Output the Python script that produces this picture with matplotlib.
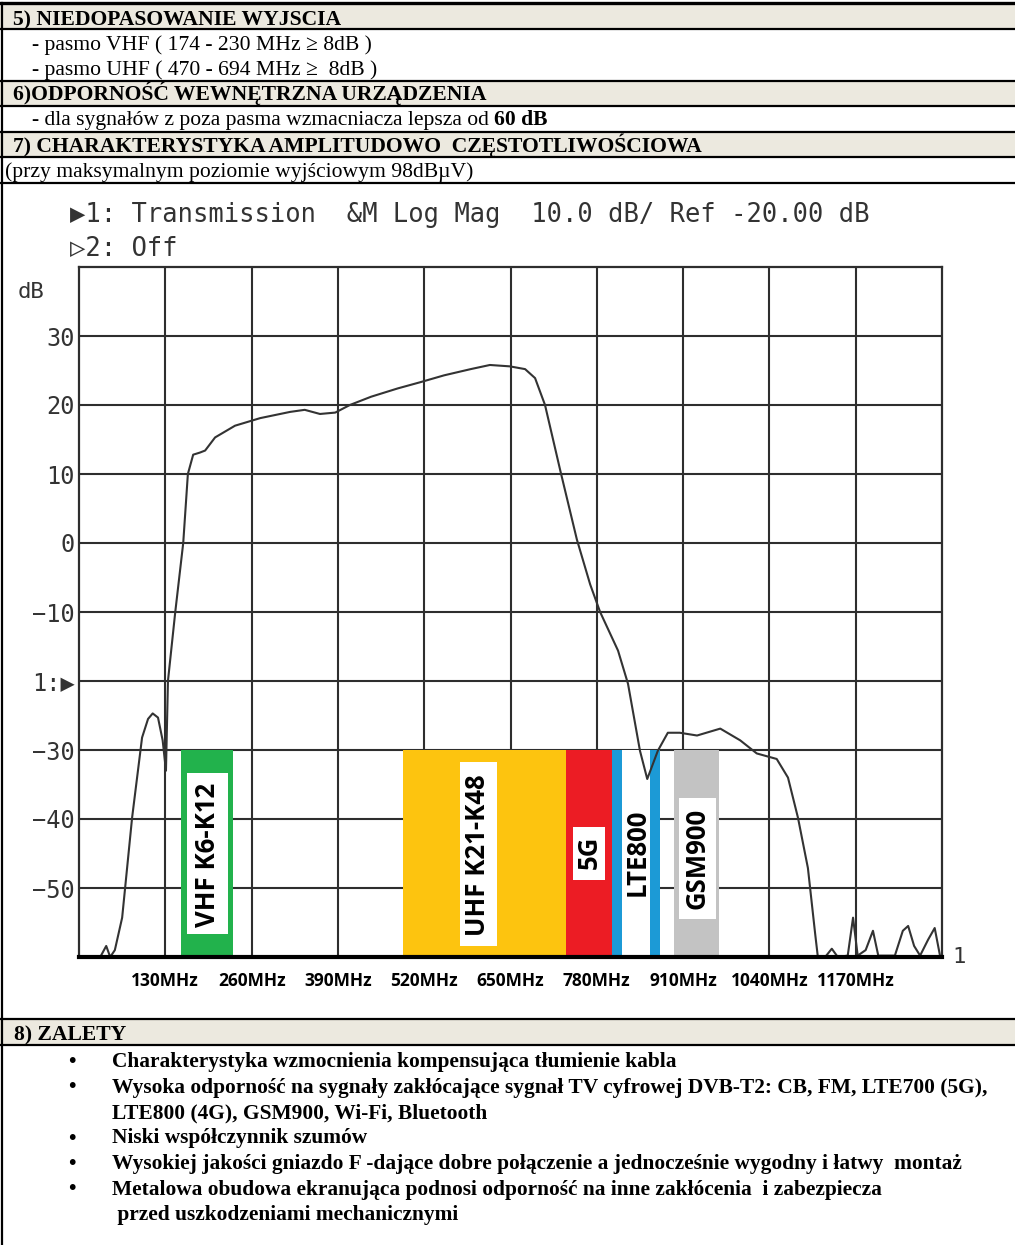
import matplotlib
matplotlib.use("Agg")
import matplotlib.pyplot as plt
from matplotlib.patches import Rectangle

# Charakterystyka amplitudowo-czestotliwosciowa
freq_mhz = [0, 32, 41, 47, 54, 65, 80, 95, 104, 111, 119, 126, 131, 134, 145,
            157, 164, 172, 182, 190, 205, 235, 273, 318, 340, 363, 386, 408,
            440, 480, 514, 550, 590, 619, 649, 672, 687, 702, 725, 750, 770,
            785, 812, 827, 845, 856, 872, 887, 905, 931, 966, 996, 1021, 1051,
            1068, 1083, 1098, 1109, 1113, 1124, 1134, 1143, 1158, 1166, 1173,
            1185, 1196, 1204, 1229, 1241, 1249, 1258, 1267, 1279, 1289, 1297,
            1300]
gain_db = [-60, -60, -58.4, -60, -59, -54.3, -39.8, -28.2, -25.5, -24.7, -25.3,
           -28.6, -33, -20, -10, 0, 10, 12.8, 13.1, 13.4, 15.3, 17, 18.1, 19.0,
           19.3, 18.7, 18.9, 20.0, 21.2, 22.4, 23.3, 24.3, 25.2, 25.8, 25.6,
           25.2, 23.9, 20, 10.5, 0.5, -6, -10, -15.6, -20.4, -30.1, -34.2,
           -30.1, -27.5, -27.5, -27.9, -26.9, -28.6, -30.5, -31.3, -34, -39.8,
           -47.1, -56.7, -60, -60, -58.8, -60, -59.8, -54.3, -59.8, -59, -56.2,
           -59.8, -59.8, -56.2, -55.5, -58.4, -59.8, -57.5, -55.8, -59.8, -60]

# Pasma (MHz)
band_names = ["VHF K6-K12", "UHF K21-K48", "5G", "LTE800", "GSM900"]
band_start = [154, 488, 734, 803, 896]
band_end = [232, 734, 803, 875, 964]
band_top_db = -30

x_ticks = [130, 260, 390, 520, 650, 780, 910, 1040, 1170]
x_labels = ["130MHz", "260MHz", "390MHz", "520MHz", "650MHz", "780MHz",
            "910MHz", "1040MHz", "1170MHz"]
y_ticks = [30, 20, 10, 0, -10, -20, -30, -40, -50]
y_labels = ["30", "20", "10", "0", "\u221210", "1:\u25b6", "\u221230",
            "\u221240", "\u221250"]

# Tekst dokumentu
header_rows = [
    ("5) NIEDOPASOWANIE WYJSCIA", "bold", 13, 25),
    ("- pasmo VHF ( 174 - 230 MHz \u2265 8dB )", "normal", 32, 50),
    ("- pasmo UHF ( 470 - 694 MHz \u2265  8dB )", "normal", 32, 75),
    ("6)ODPORNO\u015a\u0106 WEWN\u0118TRZNA URZ\u0104DZENIA", "bold", 13, 100),
    ("7) CHARAKTERYSTYKA AMPLITUDOWO  CZ\u0118STOTLIWO\u015aCIOWA", "bold", 13, 152),
    ("(przy maksymalnym poziomie wyj\u015bciowym 98dB\u00b5V)", "normal", 5, 177),
]
zalety = [
    ("Charakterystyka wzmocnienia kompensuj\u0105ca t\u0142umienie kabla", True),
    ("Wysoka odporno\u015b\u0107 na sygna\u0142y zak\u0142\u00f3caj\u0105ce sygna\u0142 TV cyfrowej DVB-T2: CB, FM, LTE700 (5G),", True),
    ("LTE800 (4G), GSM900, Wi-Fi, Bluetooth", False),
    ("Niski wsp\u00f3\u0142czynnik szum\u00f3w", True),
    ("Wysokiej jako\u015bci gniazdo F -daj\u0105ce dobre po\u0142\u0105czenie a jednocze\u015bnie wygodny i \u0142atwy  monta\u017c", True),
    ("Metalowa obudowa ekranuj\u0105ca podnosi odporno\u015b\u0107 na inne zak\u0142\u00f3cenia  i zabezpiecza", True),
    (" przed uszkodzeniami mechanicznymi", False),
]

W, H = 1015, 1245
fig = plt.figure(figsize=(W / 100, H / 100), dpi=100)
fig.patch.set_facecolor("white")

# strona dokumentu w pikselach
page = fig.add_axes([0, 0, 1, 1], zorder=0)
page.set_xlim(0, W)
page.set_ylim(H, 0)
page.axis("off")

beige = "#ece9df"
for top, bottom in [(3, 29), (81, 106), (132, 157), (1019, 1045)]:
    page.add_patch(Rectangle((0, top), W, bottom - top, color=beige, lw=0))
page.plot([0, W], [3, 3], color="black", lw=2.4)
for y in [29, 81, 106, 132, 157, 183, 1019, 1045]:
    page.plot([0, W], [y, y], color="black", lw=1.6)
page.plot([2, 2], [3, H], color="black", lw=1.6)

serif = "Liberation Serif"
fs = 15.6
for txt, weight, x, y in header_rows:
    page.text(x, y, txt, fontsize=fs, family=serif, weight=weight, va="baseline")

t1 = page.text(32, 125, "- dla sygna\u0142\u00f3w z poza pasma wzmacniacza lepsza od ",
               fontsize=fs, family=serif, va="baseline")
fig.canvas.draw()
bb = t1.get_window_extent()
x_end = page.transData.inverted().transform((bb.x1, bb.y0))[0]
page.text(x_end, 125, "60 dB", fontsize=fs, family=serif, weight="bold", va="baseline")

page.text(14, 1040, "8) ZALETY", fontsize=fs, family=serif, weight="bold", va="baseline")
fs_b = 15.4
y = 1067
for txt, bullet in zalety:
    if bullet:
        page.text(68, y, "\u2022", fontsize=fs_b, family=serif, weight="bold", va="baseline")
    page.text(112, y, txt, fontsize=fs_b, family=serif, weight="bold", va="baseline")
    y += 25.5

# naglowek analizatora
mono = ["DejaVu Sans Mono", "DejaVu Sans"]
page.text(70, 215, "\u25b61: Transmission  &M Log Mag  10.0 dB/ Ref -20.00 dB",
          fontsize=18.4, family=mono, color="#333333", va="center")
page.text(70, 248, "\u25b72: Off", fontsize=18.4, family=mono, color="#333333", va="center")
page.text(18, 292, "dB", fontsize=16, family=mono, color="#333333", va="center")
page.text(952, 957, "1", fontsize=16, family=mono, color="#333333", va="center")

# wykres
ax = fig.add_axes([79 / W, 1 - 957 / H, 863 / W, 690 / H], zorder=1)
ax.set_facecolor("none")
ax.set_xlim(0, 1300)
ax.set_ylim(-60, 40)

grid_c = "#2e2e2e"
for xv in x_ticks:
    ax.axvline(xv, color=grid_c, lw=1.5, zorder=1)
for yv in y_ticks:
    ax.axhline(yv, color=grid_c, lw=1.5, zorder=1)
for side in ["left", "right", "top"]:
    ax.spines[side].set_color(grid_c)
    ax.spines[side].set_linewidth(1.6)
ax.spines["bottom"].set_color("black")
ax.spines["bottom"].set_linewidth(3)
ax.spines["bottom"].set_zorder(6)

ax.set_xticks(x_ticks)
ax.set_xticklabels(x_labels, family="Open Sans", weight="bold", fontsize=12.5)
ax.set_yticks(y_ticks)
ax.set_yticklabels(y_labels, family=mono, fontsize=17, color="#333333")
ax.tick_params(axis="x", length=0, pad=11)
ax.tick_params(axis="y", length=0, pad=3)

colors = ["#22b24c", "#fdc40f", "#ec1c24", "#1c9ad6", "#c3c3c3"]
for i, name in enumerate(band_names):
    ax.add_patch(Rectangle((band_start[i], -60), band_end[i] - band_start[i],
                           band_top_db + 60, color=colors[i], lw=0, zorder=2))

# biale pola pod napisami (MHz od, MHz do, dB dol, dB gora)
label_boxes = [(163, 225, -56.7, -33.3), (574, 630, -58.4, -31.8),
               (744, 792, -48.8, -41.1), (818, 860, -60, -30),
               (904, 960, -54.5, -36.9)]
label_x = [193, 601, 768, 841, 931]
label_y = [-45.2, -45.2, -44.8, -44.9, -45.7]
for i, name in enumerate(band_names):
    x0, x1, y0, y1 = label_boxes[i]
    ax.add_patch(Rectangle((x0, y0), x1 - x0, y1 - y0, color="white", lw=0, zorder=3))
    ax.text(label_x[i], label_y[i], name, rotation=90, ha="center", va="center",
            family="Open Sans", weight="bold", fontsize=18.5, color="black", zorder=4)

ax.plot(freq_mhz, gain_db, color="#333333", lw=1.5, zorder=5, clip_on=False)

fig.savefig("out.png", dpi=100)
